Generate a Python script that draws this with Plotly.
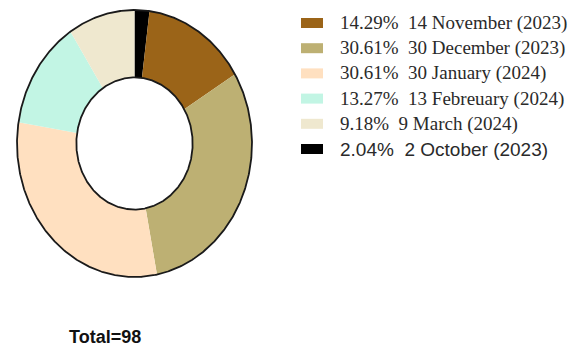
import numpy as np
import plotly.graph_objects as go

# Survey counts per collection date (legend order)
labels = ["14 November (2023)", "30 December (2023)", "30 January (2024)",
          "13 Febreuary (2024)", "9 March (2024)", "2 October (2023)"]
counts = [14, 30, 30, 13, 9, 2]
colors = ["#9B6418", "#BDB073", "#FFE0C0", "#C2F5E4", "#EFE8CF", "#000000"]
legend_fonts = ["Liberation Serif"] * 5 + ["Liberation Sans"]

total = sum(counts)
shares = [c / total * 100 for c in counts]

# Slices run clockwise from 12 o'clock, beginning with the October group
draw_order = [5, 0, 1, 2, 3, 4]

# Ring geometry in pixel units (plot area spans the whole page)
W, H = 587, 350
cx, cy = 134.5, 143.5
rx_out, ry_out = 117.5, 133.5
hole = 0.495
rx_in, ry_in = rx_out * hole, ry_out * hole


def ring_xy(theta_deg, rx, ry):
    t = np.radians(theta_deg)
    return cx + rx * np.sin(t), cy - ry * np.cos(t)


fig = go.Figure()

start = 0.0
for i in draw_order:
    span = counts[i] / total * 360.0
    n = max(int(span * 2), 4)
    th = np.linspace(start, start + span, n)
    xo, yo = ring_xy(th, rx_out, ry_out)
    xi, yi = ring_xy(th[::-1], rx_in, ry_in)
    xs = np.concatenate([xo, xi, xo[:1]])
    ys = np.concatenate([yo, yi, yo[:1]])
    fig.add_trace(go.Scatter(
        x=xs, y=ys, mode="lines", fill="toself",
        fillcolor=colors[i], line=dict(width=0, color=colors[i]),
        hoverinfo="text", text=f"{labels[i]}: {counts[i]}",
        showlegend=False,
    ))
    start += span

# Dark outlines of the outer and inner edges
full = np.linspace(0, 360, 721)
for rx, ry in [(rx_out, ry_out), (rx_in, ry_in)]:
    ex, ey = ring_xy(full, rx, ry)
    fig.add_trace(go.Scatter(x=ex, y=ey, mode="lines",
                             line=dict(color="#1a1a1a", width=1.8),
                             hoverinfo="skip", showlegend=False))

# Legend drawn as swatches + text
leg_x, leg_y0, leg_dy = 301, 23, 25.2
for k, (lab, share, col) in enumerate(zip(labels, shares, colors)):
    y = leg_y0 + k * leg_dy
    fig.add_shape(type="rect", xref="x", yref="y",
                  x0=leg_x, x1=leg_x + 22, y0=y - 5, y1=y + 5,
                  fillcolor=col, line=dict(width=0))
    fig.add_annotation(
        x=leg_x + 37, y=y, xref="x", yref="y",
        text=f"{share:.2f}%\u00a0 {lab}",
        showarrow=False, xanchor="left", yanchor="middle",
        font=dict(family=legend_fonts[k], size=19, color="#2a2a2a"),
    )

fig.add_annotation(
    x=67, y=337, xref="x", yref="y", text=f"<b>Total={total}</b>",
    showarrow=False, xanchor="left", yanchor="middle",
    font=dict(family="Liberation Sans", size=18, color="#111111"),
)

fig.update_layout(
    width=W, height=H,
    margin=dict(l=0, r=0, t=0, b=0),
    paper_bgcolor="white", plot_bgcolor="white",
    xaxis=dict(range=[0, W], visible=False, fixedrange=True),
    yaxis=dict(range=[H, 0], visible=False, fixedrange=True),
    showlegend=False,
)

fig.write_html("out.html")
